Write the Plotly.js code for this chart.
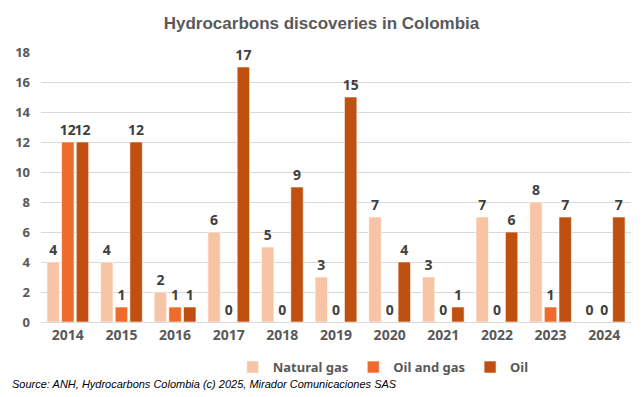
<!DOCTYPE html>
<html>
<head>
<meta charset="utf-8">
<script src="https://cdn.plot.ly/plotly-3.0.1.min.js"></script>
<style>html,body{margin:0;padding:0;background:#fff}#chart{width:643px;height:397px}</style>
</head>
<body>
<div id="chart"></div>
<script>
const years = ['2014','2015','2016','2017','2018','2019','2020','2021','2022','2023','2024'];
const naturalGas = [4, 4, 2, 6, 5, 3, 7, 3, 7, 8, 0];
const oilAndGas = [12, 1, 1, 0, 0, 0, 0, 0, 0, 1, 0];
const oil = [12, 12, 1, 17, 9, 15, 4, 1, 6, 7, 7];
const yTicks = [0, 2, 4, 6, 8, 10, 12, 14, 16, 18];

const labelFont = {family: 'Noto Sans, Liberation Sans, sans-serif', size: 14, color: '#404040', weight: 700};
function series(name, vals, color) {
  return {
    type: 'bar', name: name, x: years, y: vals,
    text: vals.map(String), textposition: 'outside', cliponaxis: false, constraintext: 'none',
    textfont: labelFont,
    marker: {color: color, line: {color: 'rgba(255,255,255,0.6)', width: 1}},
    hoverinfo: 'skip'
  };
}
const data = [
  series('Natural gas', naturalGas, '#F8C4A6'),
  series('Oil and gas', oilAndGas, '#EE6B2B'),
  series('Oil', oil, '#C0500F')
];
const layout = {
  width: 643, height: 397,
  margin: {l: 41, r: 12, t: 52, b: 75},
  paper_bgcolor: '#fff', plot_bgcolor: '#fff',
  barmode: 'group', bargap: 0.18, bargroupgap: 0.15,
  showlegend: true,
  title: {text: 'Hydrocarbons discoveries in Colombia', x: 0.5, xanchor: 'center', y: 0.943, yanchor: 'middle',
    font: {family: 'Liberation Sans Narrow, Liberation Sans, sans-serif', size: 17, color: '#595959', weight: 700}},
  xaxis: {type: 'category', showgrid: false, zeroline: false, showline: true, linecolor: '#d9d9d9', linewidth: 1,
    ticks: '', tickfont: {family: 'Noto Sans, sans-serif', size: 14, color: '#595959', weight: 700}},
  yaxis: {range: [0, 18], tickvals: yTicks, showgrid: true, gridcolor: '#d9d9d9', gridwidth: 1, zeroline: false,
    ticks: '', ticklabelstandoff: 10,
    tickfont: {family: 'Noto Sans, sans-serif', size: 13, color: '#595959', weight: 700}},
  legend: {orientation: 'h', x: 0.58, xanchor: 'center', y: -0.167, yanchor: 'middle',
    font: {family: 'Noto Sans, sans-serif', size: 13, color: '#595959', weight: 700}, itemwidth: 30},
  annotations: [{
    text: '<i>Source: ANH, Hydrocarbons Colombia (c) 2025, Mirador Comunicaciones SAS</i>',
    xref: 'paper', yref: 'paper', x: -0.0525, xanchor: 'left', y: -0.23, yanchor: 'middle', showarrow: false,
    font: {family: 'Liberation Sans, sans-serif', size: 11, color: '#000'}
  }]
};
Plotly.newPlot('chart', data, layout, {displayModeBar: false, staticPlot: true});
</script>
</body>
</html>
